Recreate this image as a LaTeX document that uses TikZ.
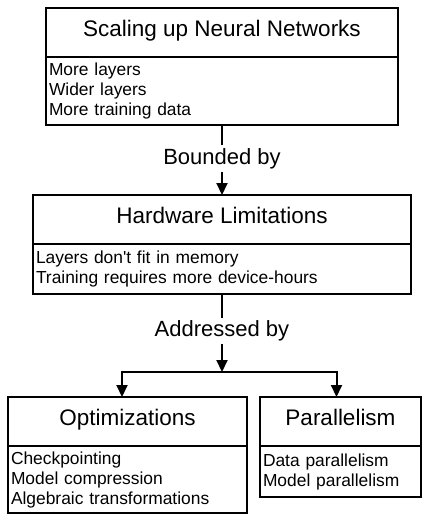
\documentclass[tikz,border=0pt]{standalone}
\usepackage{fontspec}
\setmainfont{Liberation Sans}
\usepackage{tikz}
\usetikzlibrary{positioning}
\usetikzlibrary{calc}
\usetikzlibrary{arrows.meta}

\begin{document}
\begin{tikzpicture}[
    x=1pt, y=1pt,        % one unit per pixel of the sketch
    node distance=0pt,   % body boxes hang right under their heads
    ]
% -------------------------------------------------
\tikzset{
  base/.style={draw, rectangle, line width=2pt, outer sep=0pt},
  head/.style={base, anchor=north west, minimum height=49pt, align=center,
    font=\fontsize{22.5}{27}\selectfont, text height=16pt, text depth=9pt},
  body/.style={base, align=left, inner xsep=3pt, inner ysep=0pt,
    font=\fontsize{17.4}{20}\selectfont},
  tag/.style={inner sep=3pt, font=\fontsize{22}{26}\selectfont},
  plain/.style={draw, line width=2pt},
  line/.style={plain, -{Triangle[length=12pt,width=11pt]}}
}
% -------------------------------------------------
\useasboundingbox (0,0) rectangle (422,-515);

% Placing the nodes
\node [head, minimum width=352pt] (scal) at (46,-8) {Scaling up Neural Networks};
\node [body, below=of scal, text width=346pt, minimum height=68pt] (scalb)
  {More layers\\ Wider layers\\ More training data};
\node [tag] (bnd) at (222,-158.5) {Bounded by};

\node [head, minimum width=378pt] (hw) at (33,-195) {Hardware Limitations};
\node [body, below=of hw, text width=372pt, minimum height=50pt] (hwb)
  {Layers don\textquotesingle t fit in memory\\ Training requires more device-hours};
\node [tag] (adr) at (222,-331) {Addressed by};
\coordinate (fork) at (222,-372);

\node [head, minimum width=239pt] (opt) at (8,-397) {Optimizations};
\node [body, below=of opt, text width=233pt, minimum height=67pt] (optb)
  {Checkpointing\\ Model compression\\ Algebraic transformations};
\node [head, minimum width=161pt] (par) at (260,-397) {Parallelism};
\node [body, below=of par, text width=155pt, minimum height=51pt] (parb)
  {Data parallelism\\ Model parallelism};

\path [plain] (scalb.south) -- (bnd.north);
\path [line] (bnd.south) -- (hw.north);
\path [plain] (hwb.south) -- (adr.north);
\path [line] (adr.south) -- (fork);
\path [line] (fork) -| ([xshift=-5.5pt]opt.north);
\path [line] (fork) -| ([xshift=-4pt]par.north);

\end{tikzpicture}
\end{document}
